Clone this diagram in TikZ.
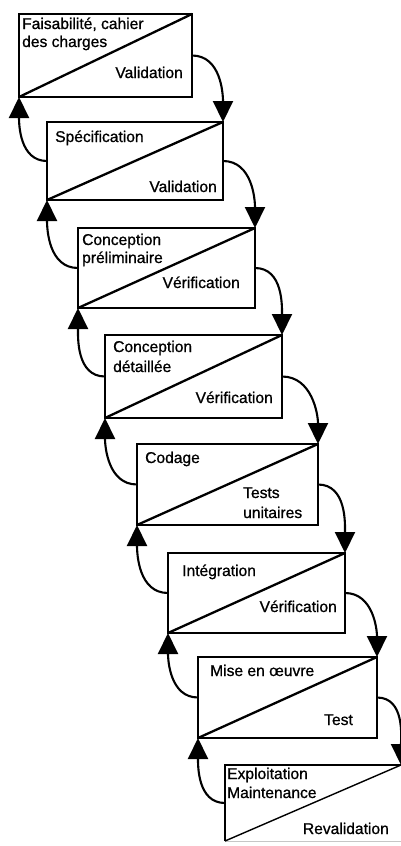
\documentclass[tikz,border=0pt]{standalone}
\usepackage{fontspec}
\setmainfont{Liberation Sans}
\newfontfamily\stagefont[FakeBold=0.9]{Liberation Sans}
\usetikzlibrary{arrows.meta}
\begin{document}
\begin{tikzpicture}[x=1pt,y=-1pt,
  stage/.style={draw, line width=2.6pt, inner sep=0pt, outer sep=0pt, anchor=north west},
  diag/.style={line width=2.3pt},
  lbl/.style={inner sep=0pt, anchor=base west, font=\stagefont\fontsize{15.6}{18}\selectfont},
  rlbl/.style={lbl, anchor=base east},
  flow/.style={line width=2.1pt, -{Triangle[length=21pt,width=20pt]}},
]
\useasboundingbox (0,0) rectangle (401,846);

% phase boxes
\node[stage, minimum width=173pt, minimum height=83pt] (b1) at (19,14) {};
\node[stage, minimum width=176pt, minimum height=78pt] (b2) at (47,122) {};
\node[stage, minimum width=177pt, minimum height=80pt] (b3) at (78,228) {};
\node[stage, minimum width=177pt, minimum height=83pt] (b4) at (105,335) {};
\node[stage, minimum width=181pt, minimum height=81pt] (b5) at (137,444) {};
\node[stage, minimum width=177pt, minimum height=80pt] (b6) at (168,553) {};
\node[stage, minimum width=179pt, minimum height=81pt] (b7) at (198,657) {};
\node[inner sep=0pt, outer sep=0pt, anchor=north west, minimum width=176pt, minimum height=76pt] (b8) at (225,765) {};

% last box: thinner frame, faint lower edge
\draw[line width=1.3pt] (b8.south west) -- (b8.north west) -- (b8.north east);
\draw[line width=0.8pt, gray!45] (b8.south west) -- (b8.south east);
\draw[line width=1.4pt] (b8.south west) -- (b8.north east);

% diagonals
\foreach \b in {b1,b2,b3,b4,b5,b6,b7}
  \draw[diag] (\b.south west) -- (\b.north east);

% labels
\node[lbl] (t1a) at (22,29) {Faisabilité, cahier};
\node[lbl] (t1b) at (22,47) {des charges};
\node[rlbl] (v1) at (183,78) {Validation};

\node[lbl] (t2) at (55,142) {Spécification};
\node[rlbl] (v2) at (217,192) {Validation};

\node[lbl] (t3a) at (82,245) {Conception};
\node[lbl] (t3b) at (82,263) {préliminaire};
\node[rlbl] (v3) at (240,288) {Vérification};

\node[lbl] (t4a) at (113,352) {Conception};
\node[lbl] (t4b) at (113,372) {détaillée};
\node[rlbl] (v4) at (273,403) {Vérification};

\node[lbl] (t5) at (145,463) {Codage};
\node[lbl] (v5a) at (243,498) {Tests};
\node[lbl] (v5b) at (243,518) {unitaires};

\node[lbl] (t6) at (182,576) {Intégration};
\node[rlbl] (v6) at (337,612) {Vérification};

\node[lbl] (t7) at (210,676) {Mise en œuvre};
\node[rlbl] (v7) at (353,725) {Test};

\node[lbl] (t8a) at (227,779) {Exploitation};
\node[lbl] (t8b) at (227,798) {Maintenance};
\node[rlbl] (v8) at (389,834) {Revalidation};

% forward arrows (right side, downwards)
\draw[flow] (b1.east) to[out=0,in=90] (b2.north east);
\draw[flow] (b2.east) to[out=0,in=90] (b3.north east);
\draw[flow] (b3.east) to[out=0,in=90] (b4.north east);
\draw[flow] (b4.east) to[out=0,in=90] (b5.north east);
\draw[flow] (b5.east) to[out=0,in=90] (b6.north east);
\draw[flow] (b6.east) to[out=0,in=90] (b7.north east);
\draw[flow] (b7.east) to[out=0,in=90] (b8.north east);

% feedback arrows (left side, upwards)
\draw[flow] (b2.west) to[out=180,in=-90] (b1.south west);
\draw[flow] (b3.west) to[out=180,in=-90] (b2.south west);
\draw[flow] (b4.west) to[out=180,in=-90] (b3.south west);
\draw[flow] (b5.west) to[out=180,in=-90] (b4.south west);
\draw[flow] (b6.west) to[out=180,in=-90] (b5.south west);
\draw[flow] (b7.west) to[out=180,in=-90] (b6.south west);
\draw[flow] (b8.west) to[out=180,in=-90] (b7.south west);
\end{tikzpicture}
\end{document}
